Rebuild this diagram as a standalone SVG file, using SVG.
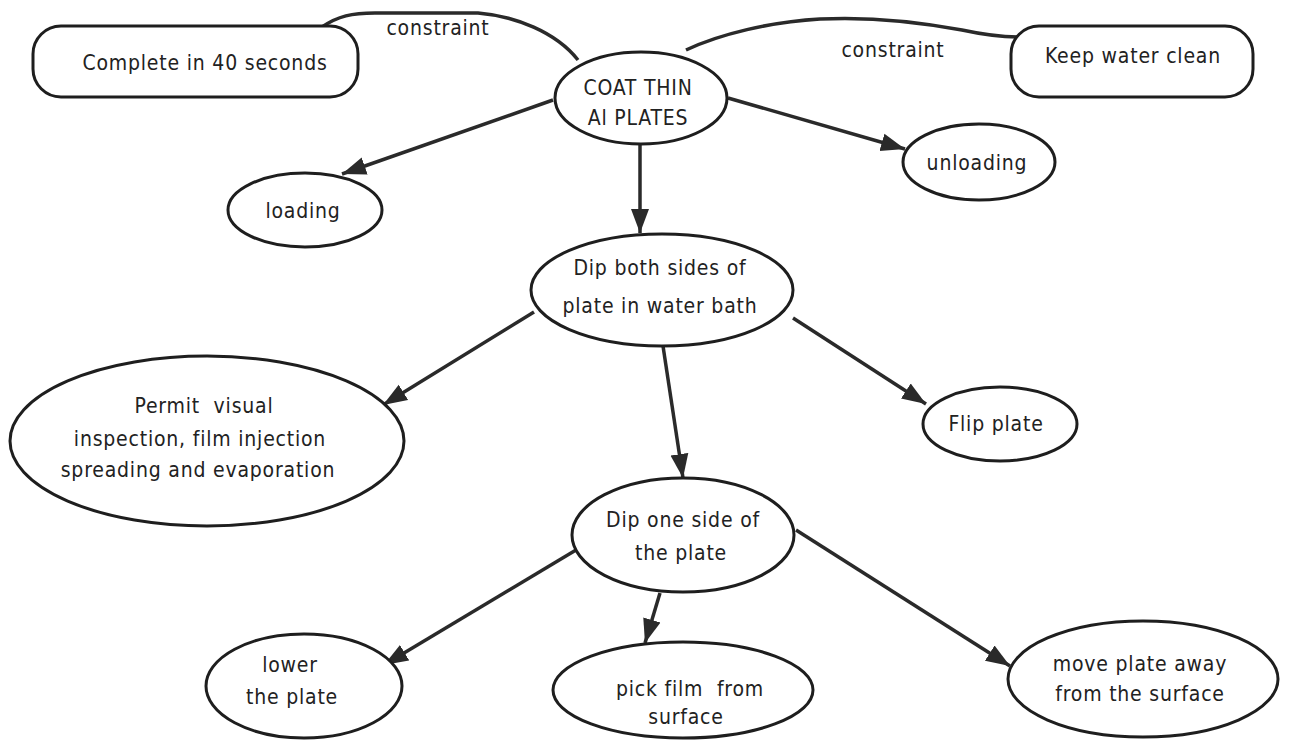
<svg xmlns="http://www.w3.org/2000/svg" width="1304" height="740" viewBox="0 0 1304 740">
  <style>
    .shape { fill: #ffffff; stroke: #1e1e1e; stroke-width: 3; }
    .link { fill: none; stroke: #2a2a2a; stroke-width: 3.5; }
    .arc { fill: none; stroke: #2a2a2a; stroke-width: 3.5; stroke-linejoin: round; }
    text { font-family: "DejaVu Sans Condensed", "Liberation Sans Narrow", "Liberation Sans", sans-serif; font-size: 21px; letter-spacing: 0.8px; fill: #222; text-anchor: middle; white-space: pre; }
  </style>
  <defs>
    <marker id="head" markerUnits="userSpaceOnUse" markerWidth="26" markerHeight="20" refX="24" refY="10" orient="auto">
      <path d="M0,1 L24,10 L0,19 Z" fill="#2a2a2a"/>
    </marker>
  </defs>
  <rect width="1304" height="740" fill="#ffffff"/>

  <!-- connectors -->
  <g id="connectors">
    <path class="arc" d="M 322 27 C 338 16, 352 13, 375 13 L 478 13 C 515 16, 556 32, 578 60"/>
    <path class="arc" d="M 686 50 C 720 34, 770 22, 820 19 C 880 16, 930 24, 962 30 C 985 35, 1000 37, 1020 37"/>
    <line class="link" x1="553" y1="100" x2="342" y2="174" marker-end="url(#head)"/>
    <line class="link" x1="728" y1="98" x2="905" y2="149" marker-end="url(#head)"/>
    <line class="link" x1="640" y1="145" x2="640" y2="233" marker-end="url(#head)"/>
    <line class="link" x1="534" y1="312" x2="383" y2="405" marker-end="url(#head)"/>
    <line class="link" x1="793" y1="318" x2="926" y2="404" marker-end="url(#head)"/>
    <line class="link" x1="663" y1="346" x2="683" y2="478" marker-end="url(#head)"/>
    <line class="link" x1="576" y1="550" x2="384" y2="665" marker-end="url(#head)"/>
    <line class="link" x1="660" y1="593" x2="645" y2="643" marker-end="url(#head)"/>
    <line class="link" x1="796" y1="530" x2="1010" y2="666" marker-end="url(#head)"/>
    <text x="438" y="35">constraint</text>
    <text x="893" y="57">constraint</text>
  </g>

  <g id="complete">
    <rect class="shape" x="33" y="26" width="325" height="71" rx="28"/>
    <text x="205" y="70">Complete in 40 seconds</text>
  </g>

  <g id="keep-clean">
    <rect class="shape" x="1011" y="26" width="242" height="71" rx="28"/>
    <text x="1133" y="63">Keep water clean</text>
  </g>

  <g id="coat">
    <ellipse class="shape" cx="641" cy="98" rx="86" ry="46"/>
    <text x="638" y="95">COAT THIN</text>
    <text x="638" y="125">Al PLATES</text>
  </g>

  <g id="loading">
    <ellipse class="shape" cx="305" cy="210" rx="77" ry="37"/>
    <text x="303" y="218">loading</text>
  </g>

  <g id="unloading">
    <ellipse class="shape" cx="979" cy="162" rx="76" ry="38"/>
    <text x="977" y="170">unloading</text>
  </g>

  <g id="dip-both">
    <ellipse class="shape" cx="662" cy="290" rx="131" ry="56"/>
    <text x="660" y="275">Dip both sides of</text>
    <text x="660" y="313">plate in water bath</text>
  </g>

  <g id="permit">
    <ellipse class="shape" cx="207" cy="441" rx="197" ry="85"/>
    <text x="204" y="413">Permit  visual</text>
    <text x="200" y="446">inspection, film injection</text>
    <text x="198" y="477">spreading and evaporation</text>
  </g>

  <g id="flip">
    <ellipse class="shape" cx="1000" cy="424" rx="77" ry="37"/>
    <text x="996" y="431">Flip plate</text>
  </g>

  <g id="dip-one">
    <ellipse class="shape" cx="683" cy="535" rx="111" ry="57"/>
    <text x="683" y="527">Dip one side of</text>
    <text x="681" y="560">the plate</text>
  </g>

  <g id="lower">
    <ellipse class="shape" cx="304" cy="686" rx="98" ry="52"/>
    <text x="290" y="672">lower</text>
    <text x="292" y="704">the plate</text>
  </g>

  <g id="pick">
    <ellipse class="shape" cx="683" cy="690" rx="130" ry="48"/>
    <text x="690" y="696">pick film  from</text>
    <text x="686" y="724">surface</text>
  </g>

  <g id="move-away">
    <ellipse class="shape" cx="1143" cy="679" rx="135" ry="58"/>
    <text x="1140" y="671">move plate away</text>
    <text x="1140" y="701">from the surface</text>
  </g>
</svg>
